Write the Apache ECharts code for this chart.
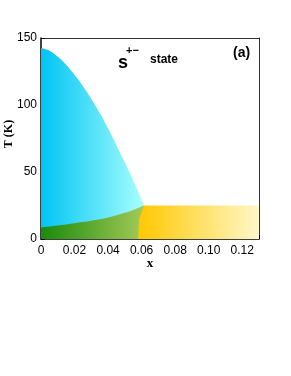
<!DOCTYPE html>
<html><head><meta charset="utf-8">
<script src="https://cdn.jsdelivr.net/npm/echarts@6/dist/echarts.min.js"></script>
<style>html,body{margin:0;padding:0;background:#fff}#c{width:291px;height:376px}</style>
</head><body><div id="c"></div>
<script>
// AFM upper boundary (Neel temperature)
const afmX = [0, 0.005, 0.01, 0.015, 0.02, 0.025, 0.03, 0.035, 0.04, 0.045, 0.05, 0.055, 0.0615];
const afmT = [142.5, 140.5, 136, 130, 122.5, 114, 104.5, 94, 82.5, 70, 57, 43.5, 25];
// green (coexistence) upper boundary
const coX = [0, 0.01, 0.02, 0.03, 0.04, 0.05, 0.055, 0.0615];
const coT = [8.5, 10, 11.8, 13.6, 16, 19.5, 21.6, 25];
// SC region boundary
const scX = [0.058, 0.0585, 0.0615, 0.13];
const scT = [0, 15, 25, 25];
const xTickLabels = ['0', '0.02', '0.04', '0.06', '0.08', '0.10', '0.12'];
const yTickLabels = ['0', '50', '100', '150'];

const zip = (a, b) => a.map((v, i) => [v, b[i]]);
const grad = (c0, c1) => new echarts.graphic.LinearGradient(0, 0, 1, 0, [{offset: 0, color: c0}, {offset: 1, color: c1}]);
const chart = echarts.init(document.getElementById('c'));
const tickFont = {fontFamily: 'Liberation Sans', fontSize: 12, color: '#000'};
const axisBase = {
  axisLine: {show: true, lineStyle: {color: '#000', width: 1.5}},
  axisTick: {show: true, inside: true, length: 4, lineStyle: {color: '#000'}},
  splitLine: {show: false}
};
chart.setOption({
  animation: false,
  grid: {left: 41, top: 38, right: 32, bottom: 137},
  xAxis: [
    Object.assign({}, axisBase, {type: 'value', min: 0, max: 0.13, interval: 0.02,
      minorTick: {show: true, splitNumber: 2, length: 2.5, lineStyle: {color: '#000'}},
      axisLabel: Object.assign({}, tickFont, {margin: 6, showMaxLabel: false,
        formatter: v => xTickLabels[Math.round(v / 0.02)] || ''})}),
    {type: 'value', position: 'top', min: 0, max: 0.13, axisLine: {show: true, onZero: false, lineStyle: {color: '#333', width: 1}},
      axisTick: {show: false}, axisLabel: {show: false}, splitLine: {show: false}}
  ],
  yAxis: [
    Object.assign({}, axisBase, {type: 'value', min: 0, max: 150, interval: 50,
      minorTick: {show: true, splitNumber: 5, length: 2.5, lineStyle: {color: '#000'}},
      axisLabel: Object.assign({}, tickFont, {margin: 4,
        formatter: v => yTickLabels[Math.round(v / 50)] || ''})}),
    {type: 'value', position: 'right', min: 0, max: 150, axisLine: {show: true, onZero: false, lineStyle: {color: '#333', width: 1}},
      axisTick: {show: false}, axisLabel: {show: false}, splitLine: {show: false}}
  ],
  series: [
    {type: 'line', data: zip(afmX, afmT), smooth: 0.4, showSymbol: false, lineStyle: {width: 0},
      areaStyle: {opacity: 1, color: grad('#00c4f4', '#a8ffff')}, z: 1},
    {type: 'line', data: zip(coX, coT), smooth: 0.3, showSymbol: false, lineStyle: {width: 0},
      areaStyle: {opacity: 1, color: grad('#1a8a0c', '#a4ca58')}, z: 2},
    {type: 'line', data: zip(scX, scT), showSymbol: false, lineStyle: {width: 0},
      areaStyle: {opacity: 1, color: grad('#ffc800', '#fff8c8')}, z: 3}
  ],
  graphic: [
    {type: 'text', left: 118, top: 54, style: {text: 's', font: 'bold 18px "Liberation Sans"', fill: '#000'}},
    {type: 'text', left: 126, top: 45, style: {text: '+\u2212', font: 'bold 11px "Liberation Sans"', fill: '#000'}},
    {type: 'text', left: 150, top: 54, style: {text: 'state', font: 'bold 12px "Liberation Sans"', fill: '#000'}},
    {type: 'text', left: 233, top: 46, style: {text: '(a)', font: 'bold 14px "Liberation Sans"', fill: '#000'}},
    {type: 'text', left: 58, top: 154, style: {text: 'AFM', font: 'bold 13px "Liberation Serif"', fill: '#000'}},
    {type: 'text', left: 176, top: 217, style: {text: 'SC', font: 'bold 13px "Liberation Serif"', fill: '#000'}},
    {type: 'text', x: 9, y: 134, rotation: Math.PI / 2, style: {text: 'T (K)', font: 'bold 12px "Liberation Serif"', fill: '#000', align: 'center', verticalAlign: 'middle'}},
    {type: 'text', x: 150, y: 264, style: {text: 'x', font: 'bold 13px "Liberation Serif"', fill: '#000', align: 'center', verticalAlign: 'middle'}}
  ]
});
</script></body></html>
